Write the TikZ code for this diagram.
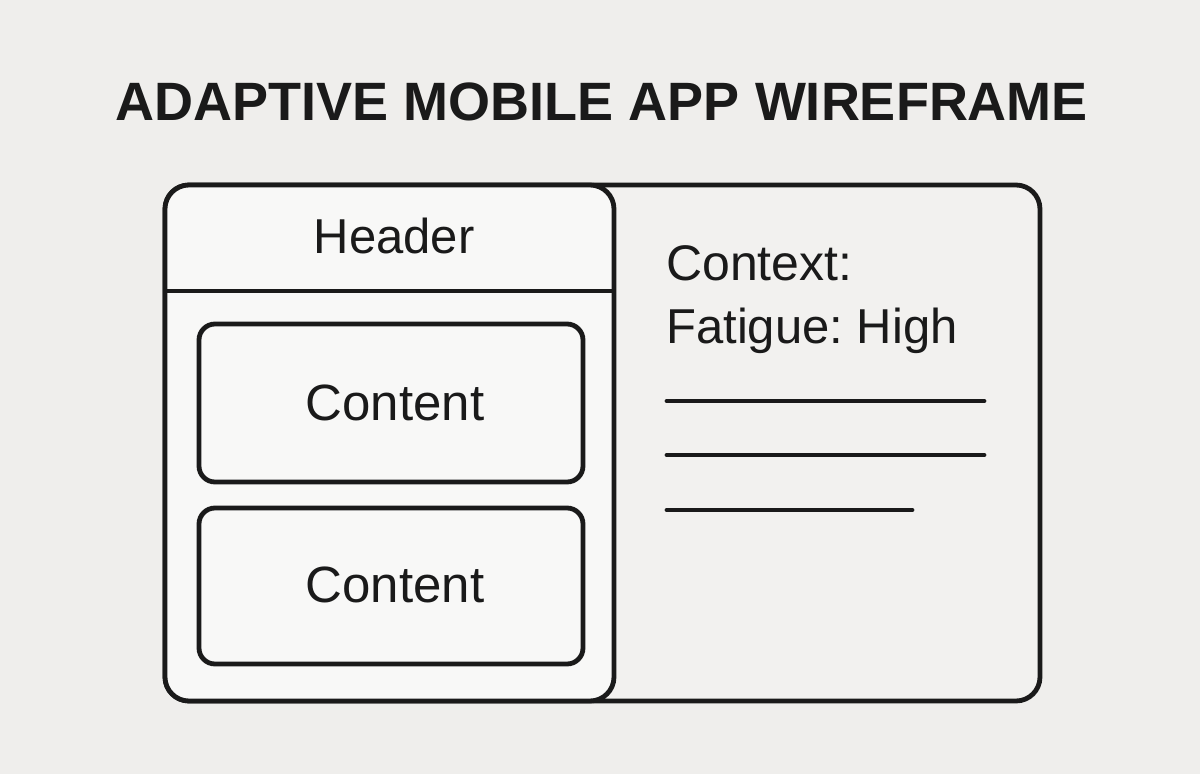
\documentclass[tikz,border=0pt]{standalone}
\usepackage{fontspec}
\setmainfont{Liberation Sans}
\frenchspacing
\definecolor{bgc}{HTML}{EFEEEC}
\definecolor{panelc}{HTML}{F8F8F7}
\definecolor{rightc}{HTML}{F2F1EF}
\definecolor{inkc}{HTML}{1A1A1A}
\tikzset{
  frame/.style={draw=inkc, line width=4.8pt, rounded corners=24pt},
  cardbox/.style={draw=inkc, line width=4.8pt, rounded corners=16pt, fill=panelc},
  textline/.style={draw=inkc, line width=4.8pt, line cap=round},
  lbl/.style={inner sep=0pt, text=inkc},
}
\begin{document}
\begin{tikzpicture}[x=1pt,y=-1pt]
\fill[bgc] (0,0) rectangle (1200,774);
\useasboundingbox (0,0) rectangle (1200,774);
% title
\node[lbl, anchor=base, font=\bfseries\fontsize{54}{60}\selectfont] (title) at (602,120) {ADAPTIVE MOBILE APP WIREFRAME};
% outer frame
\draw[frame, fill=rightc] (165,185) rectangle (1040,701);
% left panel
\draw[frame, fill=panelc] (165,185) rectangle (614,701);
\draw[draw=inkc, line width=4.8pt] (165,291) -- (614,291);
\node[lbl, anchor=base, font=\fontsize{49}{52}\selectfont] (header) at (394,253) {Header};
% content cards
\draw[cardbox] (199,324) rectangle (583,482);
\node[lbl, anchor=base, font=\fontsize{51}{54}\selectfont] (content1) at (395,420) {Content};
\draw[cardbox] (199,508) rectangle (583,664);
\node[lbl, anchor=base, font=\fontsize{51}{54}\selectfont] (content2) at (395,602) {Content};
% right panel
\node[lbl, anchor=base west, font=\fontsize{50}{53}\selectfont] (context) at (666,280) {Context:};
\node[lbl, anchor=base west, font=\fontsize{49}{53}\selectfont] (fatigue) at (666,343) {Fatigue: High};
\coordinate (l1a) at (667,401); \coordinate (l1b) at (984,401);
\coordinate (l2a) at (667,455); \coordinate (l2b) at (984,455);
\coordinate (l3a) at (667,510); \coordinate (l3b) at (912,510);
\draw[textline] (l1a) -- (l1b);
\draw[textline] (l2a) -- (l2b);
\draw[textline] (l3a) -- (l3b);
\end{tikzpicture}
\end{document}
